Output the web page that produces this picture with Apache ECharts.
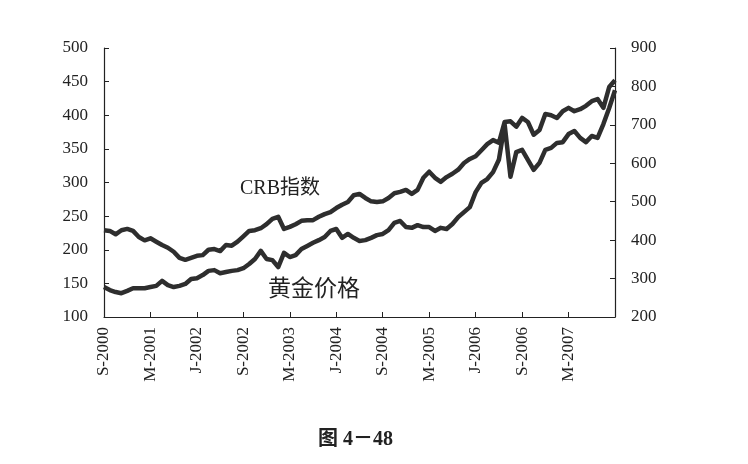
<!DOCTYPE html>
<html>
<head>
<meta charset="utf-8">
<script src="https://cdn.jsdelivr.net/npm/echarts/dist/echarts.min.js"></script>
<style>
html,body{margin:0;padding:0;background:#fff;}
#chart{width:748px;height:464px;}
</style>
</head>
<body>
<div id="chart"></div>
<script>
// Monthly categories, Sep 2000 .. Jan 2008
const startYear = 2000, startMonth = 9, monthCount = 89;
const months = [];
for (let i = 0; i < monthCount; i++) {
  const t = startMonth - 1 + i;
  const y = startYear + Math.floor(t / 12);
  const m = (t % 12) + 1;
  months.push(y + '-' + (m < 10 ? '0' + m : m));
}

// Tick labels every 8 months
const xTickLabels = ['S-2000','M-2001','J-2002','S-2002','M-2003','J-2004','S-2004','M-2005','J-2006','S-2006','M-2007'];

// CRB index (left axis)
const crb = [229,228,223,229,231,228,219,214,217,212,207,203,197,188,185,188,191,192,200,201,198,207,206,212,
  220,228,229,232,238,246,249,231,234,238,243,244,244,249,253,256,262,267,271,281,
  283,277,272,271,272,277,284,286,289,283,289,307,316,307,301,308,313,319,329,335,
  339,348,357,363,359,390,391,383,396,390,371,378,402,400,396,406,411,406,409,414,
  421,424,411,442,452];

// Gold price (right axis)
const gold = [278,270,265,262,268,275,275,275,278,281,294,283,278,281,286,299,301,309,320,322,314,317,320,322,
  327,338,351,372,351,348,330,367,356,361,377,385,393,400,408,424,
  429,406,416,406,398,400,406,413,416,426,445,450,434,432,439,434,434,424,432,429,442,460,473,486,
  525,549,559,577,609,700,565,629,635,609,583,601,635,640,653,655,676,684,666,655,
  671,666,702,744,790];

const leftTicks = {min:100, max:500, interval:50};
const rightTicks = {min:200, max:900, interval:100};

const serif = "'Liberation Serif','Times New Roman','Noto Sans CJK SC',serif";
const ink = '#222';
const lineInk = '#2e2e2e';

const chart = echarts.init(document.getElementById('chart'), null, {renderer:'canvas'});
chart.setOption({
  animation:false,
  backgroundColor:'#ffffff',
  grid:{left:104, right:133, top:48, bottom:147},
  xAxis:{
    type:'category', data:months, boundaryGap:false,
    axisLine:{show:true, lineStyle:{color:ink, width:1.2}},
    axisTick:{show:true, inside:true, interval:7, length:5, lineStyle:{color:ink, width:1}},
    axisLabel:{interval:7, rotate:90, margin:10, fontFamily:serif, fontSize:17, color:ink,
      formatter:function(v, i){ return (i % 8 === 0 && xTickLabels[i/8]) ? xTickLabels[i/8] : ''; }},
    splitLine:{show:false}
  },
  yAxis:[
    {type:'value', position:'left', min:leftTicks.min, max:leftTicks.max, interval:leftTicks.interval,
      axisLine:{show:true, lineStyle:{color:ink, width:1.2}},
      axisTick:{show:true, inside:true, length:5, lineStyle:{color:ink}},
      axisLabel:{fontFamily:serif, fontSize:17, color:ink, margin:16},
      splitLine:{show:false}},
    {type:'value', position:'right', min:rightTicks.min, max:rightTicks.max, interval:rightTicks.interval,
      axisLine:{show:true, lineStyle:{color:ink, width:1.2}},
      axisTick:{show:true, inside:true, length:5, lineStyle:{color:ink}},
      axisLabel:{fontFamily:serif, fontSize:17, color:ink, margin:16},
      splitLine:{show:false}}
  ],
  series:[
    {name:'CRB指数', type:'line', yAxisIndex:0, data:crb, symbol:'none',
      lineStyle:{color:lineInk, width:4.5, join:'round'}},
    {name:'黄金价格', type:'line', yAxisIndex:1, data:gold, symbol:'none',
      lineStyle:{color:lineInk, width:4.5, join:'round'}}
  ],
  graphic:[
    {type:'text', left:240, top:179, style:{text:'CRB指数', font:"20px 'Liberation Serif','Noto Sans CJK SC',serif", fill:ink}},
    {type:'text', left:268, top:278, style:{text:'黄金价格', font:"23px 'Liberation Serif','Noto Sans CJK SC',serif", fill:ink}},
    {type:'text', left:318, top:430, style:{text:'图 4－48', font:"bold 20px 'Liberation Serif','Noto Sans CJK SC',serif", fill:ink}}
  ]
});
</script>
</body>
</html>
